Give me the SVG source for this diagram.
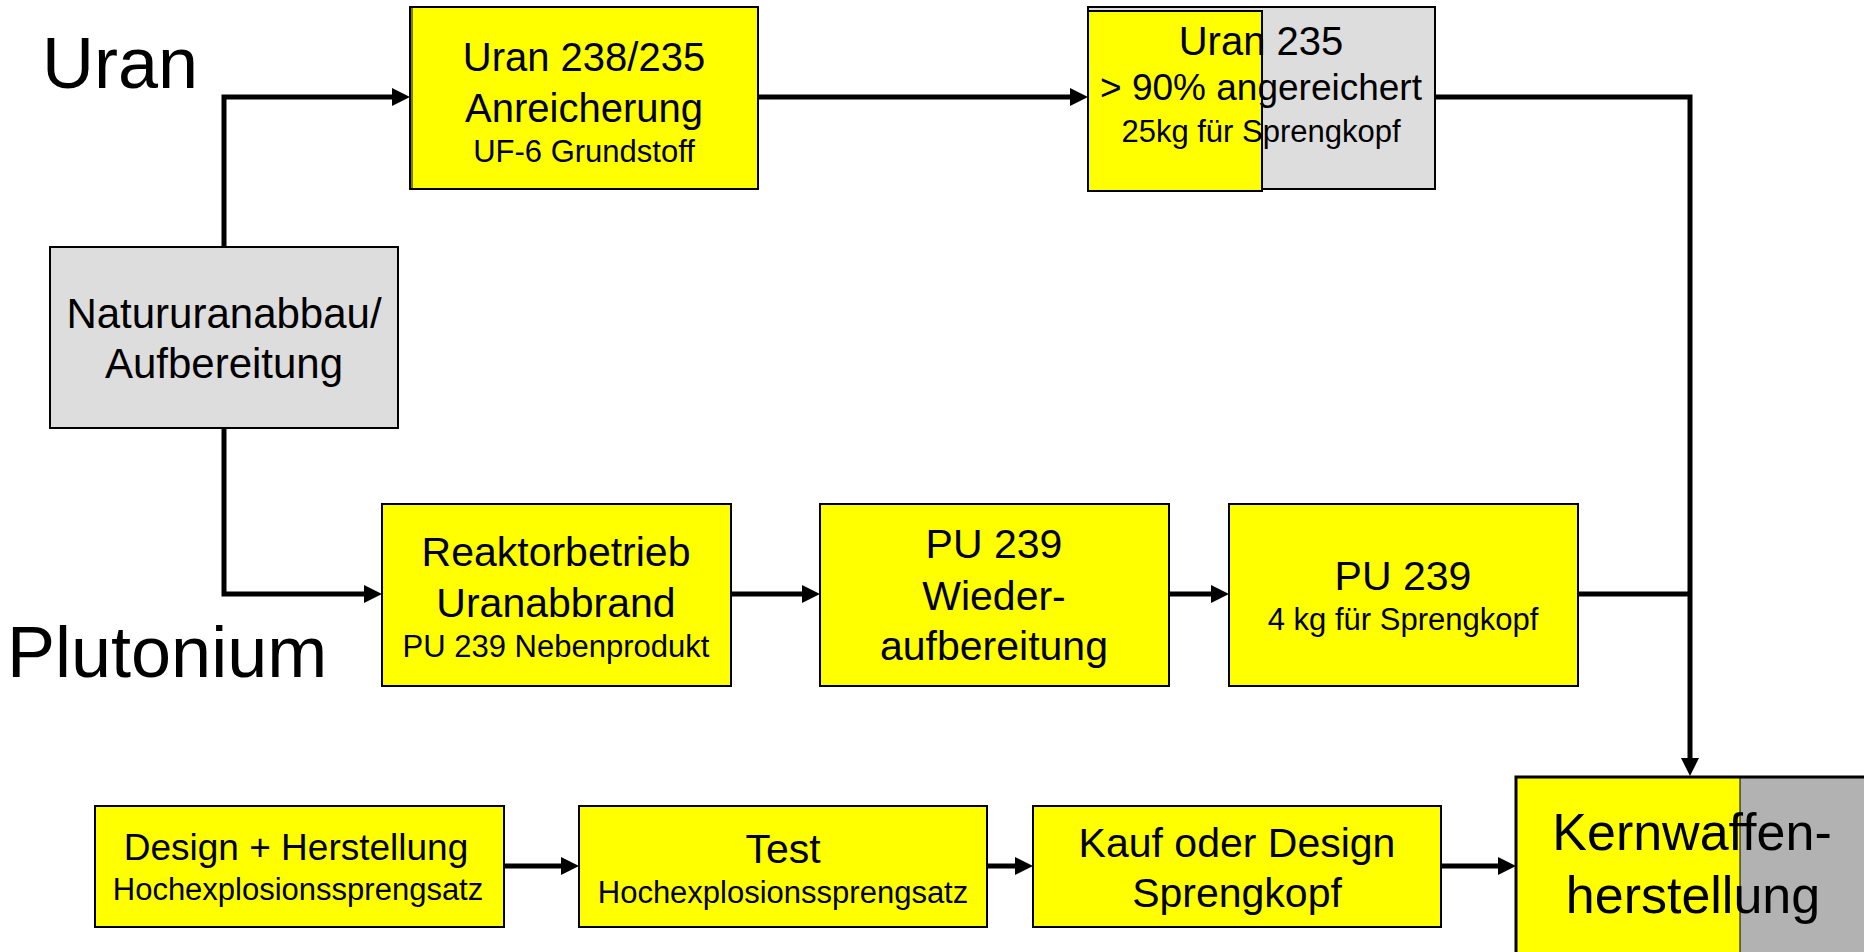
<svg xmlns="http://www.w3.org/2000/svg" width="1864" height="952" viewBox="0 0 1864 952">
  <style>
    text { font-family: "Liberation Sans", Arial, Helvetica, sans-serif; fill: #000; }
    .c { text-anchor: middle; }
    .big { font-size: 41px; }
    .small { font-size: 31px; }
    .label { font-size: 72px; }
    .box { stroke: #000; stroke-width: 2; }
    .y { fill: #FFFF00; }
    .g { fill: #DDDDDD; }
    .dg { fill: #B2B2B2; }
    .conn { fill: none; stroke: #000; stroke-width: 5; }
  </style>
  <defs>
    <marker id="arrow" markerUnits="userSpaceOnUse" markerWidth="20" markerHeight="20" refX="18" refY="9" orient="auto">
      <path d="M0,0 L18,9 L0,18 Z" fill="#000"/>
    </marker>
  </defs>

  <rect width="1864" height="952" fill="#fff"/>

  <!-- section labels -->
  <text class="label" x="42" y="88">Uran</text>
  <text class="label" x="7" y="677">Plutonium</text>

  <!-- connectors -->
  <g id="connectors">
    <path class="conn" d="M224,246 V97 H392" />
    <path d="M392,88 L410,97 L392,106 Z" fill="#000"/>
    <path class="conn" d="M224,428 V594 H364" />
    <path d="M364,585 L382,594 L364,603 Z" fill="#000"/>
    <path class="conn" d="M758,97 H1070" />
    <path d="M1070,88 L1088,97 L1070,106 Z" fill="#000"/>
    <path class="conn" d="M1435,97 H1690 V758" />
    <path d="M1681,758 L1690,776 L1699,758 Z" fill="#000"/>
    <path class="conn" d="M731,594 H802" />
    <path d="M802,585 L820,594 L802,603 Z" fill="#000"/>
    <path class="conn" d="M1169,594 H1211" />
    <path d="M1211,585 L1229,594 L1211,603 Z" fill="#000"/>
    <path class="conn" d="M1578,594 H1690" />
    <path class="conn" d="M504,866 H561" />
    <path d="M561,857 L579,866 L561,875 Z" fill="#000"/>
    <path class="conn" d="M987,866 H1015" />
    <path d="M1015,857 L1033,866 L1015,875 Z" fill="#000"/>
    <path class="conn" d="M1441,866 H1498" />
    <path d="M1498,857 L1516,866 L1498,875 Z" fill="#000"/>
  </g>

  <!-- Natururanabbau -->
  <g id="natururan">
    <rect class="box g" x="50" y="247" width="348" height="181"/>
    <text class="c" style="font-size:42px" x="224" y="328">Natururanabbau/</text>
    <text class="c" style="font-size:42px" x="224" y="378">Aufbereitung</text>
  </g>

  <!-- Anreicherung -->
  <g id="anreicherung">
    <rect class="box y" x="410" y="7" width="348" height="182"/>
    <line x1="412" y1="7" x2="412" y2="189" stroke="#000" stroke-width="1"/>
    <text class="c big" style="font-size:40px" x="584" y="71">Uran 238/235</text>
    <text class="c big" style="font-size:40px" x="584" y="122">Anreicherung</text>
    <text class="c small" x="584" y="162">UF-6 Grundstoff</text>
  </g>

  <!-- Uran 235 -->
  <g id="uran235">
    <rect class="box g" x="1088" y="7" width="347" height="182"/>
    <rect class="box y" x="1088" y="11" width="174" height="180"/>
    <text class="c" style="font-size:40px" x="1261" y="55">Uran 235</text>
    <text class="c" style="font-size:37px" x="1261" y="100">&gt; 90% angereichert</text>
    <text class="c small" x="1261" y="142">25kg für Sprengkopf</text>
  </g>

  <!-- Reaktorbetrieb -->
  <g id="reaktor">
    <rect class="box y" x="382" y="504" width="349" height="182"/>
    <text class="c big" x="556" y="566">Reaktorbetrieb</text>
    <text class="c big" x="556" y="617">Uranabbrand</text>
    <text class="c small" x="556" y="657">PU 239 Nebenprodukt</text>
  </g>

  <!-- Wiederaufbereitung -->
  <g id="wiederaufbereitung">
    <rect class="box y" x="820" y="504" width="349" height="182"/>
    <text class="c big" x="994" y="558">PU 239</text>
    <text class="c big" x="994" y="610">Wieder-</text>
    <text class="c big" x="994" y="660">aufbereitung</text>
  </g>

  <!-- PU 239 -->
  <g id="pu239">
    <rect class="box y" x="1229" y="504" width="349" height="182"/>
    <text class="c big" x="1403" y="590">PU 239</text>
    <text class="c small" x="1403" y="630">4 kg für Sprengkopf</text>
  </g>

  <!-- Design + Herstellung -->
  <g id="design">
    <rect class="box y" x="95" y="806" width="409" height="121"/>
    <text class="c" style="font-size:37px" x="296" y="860">Design + Herstellung</text>
    <text class="c small" x="298" y="900">Hochexplosionssprengsatz</text>
  </g>

  <!-- Test -->
  <g id="test">
    <rect class="box y" x="579" y="806" width="408" height="121"/>
    <text class="c big" x="783" y="863">Test</text>
    <text class="c small" x="783" y="903">Hochexplosionssprengsatz</text>
  </g>

  <!-- Kauf oder Design -->
  <g id="kauf">
    <rect class="box y" x="1033" y="806" width="408" height="121"/>
    <text class="c big" x="1237" y="857">Kauf oder Design</text>
    <text class="c big" x="1237" y="907">Sprengkopf</text>
  </g>

  <!-- Kernwaffenherstellung -->
  <g id="kernwaffen">
    <rect class="y" x="1516" y="776" width="224" height="180"/>
    <rect class="dg" x="1740" y="776" width="130" height="180"/>
    <path d="M1516,960 V777 H1870" fill="none" stroke="#000" stroke-width="3"/>
    <line x1="1740" y1="778" x2="1740" y2="952" stroke="#000" stroke-width="1"/>
    <text class="c" style="font-size:52px" x="1692" y="850">Kernwaffen-</text>
    <text class="c" style="font-size:52px" x="1693" y="913">herstellung</text>
  </g>
</svg>
